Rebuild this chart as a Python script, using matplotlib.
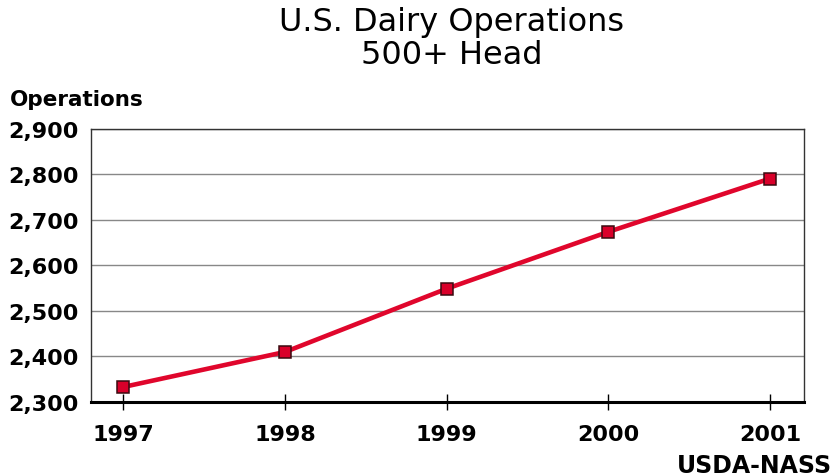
import matplotlib.pyplot as plt
from matplotlib.ticker import FuncFormatter

years = [1997, 1998, 1999, 2000, 2001]
operations = [2333, 2410, 2549, 2674, 2791]
y_ticks = [2300, 2400, 2500, 2600, 2700, 2800, 2900]

plt.rcParams['font.family'] = ['DejaVu Sans']

fig = plt.figure(figsize=(8.37, 4.77), dpi=100)
ax = fig.add_axes([91 / 837, 1 - 403 / 477, (804 - 91) / 837, (403 - 130) / 477])

ax.plot(years, operations, color="#e0062c", linewidth=3.3, zorder=3,
        marker="s", markersize=8, markerfacecolor="#d9002a",
        markeredgecolor="#3a0a10", markeredgewidth=1.1)

ax.set_xlim(1996.8, 2001.21)
ax.set_ylim(2300, 2900)
ax.set_xticks(years)
ax.set_yticks(y_ticks)
ax.yaxis.set_major_formatter(FuncFormatter(lambda v, p: f"{int(v):,}"))
ax.grid(axis="y", color="#888888", linewidth=1)
ax.set_axisbelow(True)

for s in ["top", "right", "left"]:
    ax.spines[s].set_linewidth(1)
    ax.spines[s].set_color("#333333")
ax.spines["bottom"].set_linewidth(2.2)
ax.spines["bottom"].set_color("black")

ax.tick_params(axis="x", direction="inout", length=12, width=1, pad=10,
               labelsize=16)
ax.tick_params(axis="y", length=0, pad=9, labelsize=16)
for lab in ax.get_xticklabels() + ax.get_yticklabels():
    lab.set_fontweight("bold")

fig.text(452 / 837, 1 - 23 / 477, "U.S. Dairy Operations", ha="center",
         va="center", fontsize=23)
fig.text(452 / 837, 1 - 55 / 477, "500+ Head", ha="center",
         va="center", fontsize=23)
fig.text(10 / 837, 1 - 100 / 477, "Operations", ha="left", va="center",
         fontsize=15.5, fontweight="bold")
fig.text(832 / 837, 1 - 466 / 477, "USDA-NASS", ha="right", va="center",
         fontsize=17, fontweight="bold")

fig.savefig("out.png", dpi=100)
